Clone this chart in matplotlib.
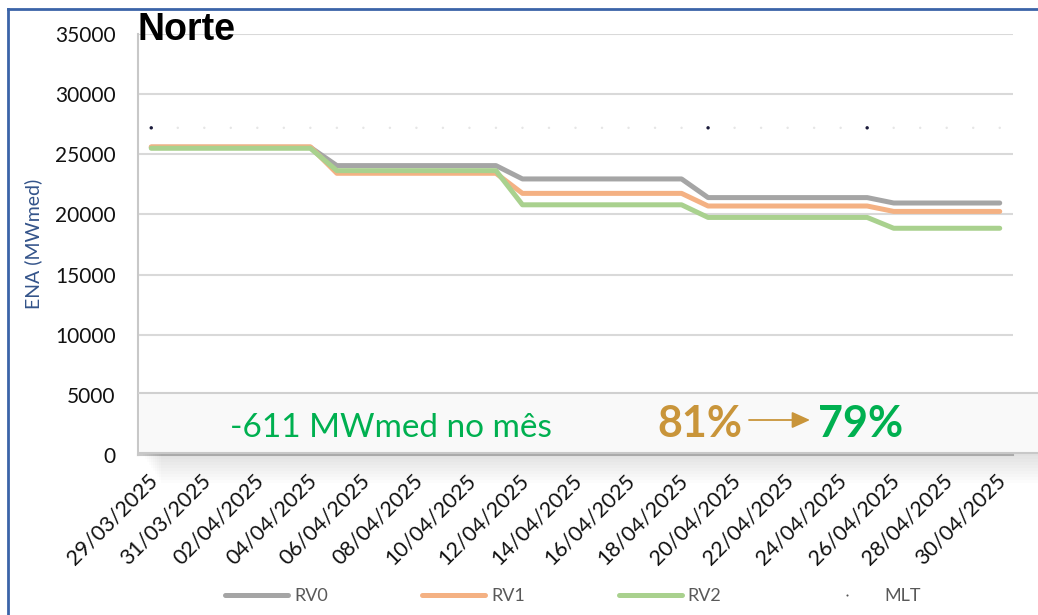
import numpy as np
import matplotlib
matplotlib.use("Agg")
import matplotlib.pyplot as plt
import matplotlib.transforms as mtrans
from matplotlib.patches import Rectangle, FancyArrowPatch
from matplotlib.lines import Line2D
import datetime as dt

plt.rcParams['font.family'] = ['Lato', 'DejaVu Sans']

# dias de 29/03/2025 a 30/04/2025
start = dt.date(2025, 3, 29)
dates = [start + dt.timedelta(days=i) for i in range(33)]
labels = [d.strftime('%d/%m/%Y') for d in dates]

rv0 = [25580] * 7 + [24060] * 7 + [22950] * 7 + [21400] * 7 + [20950] * 5
rv1 = [25620] * 7 + [23420] * 7 + [21750] * 7 + [20700] * 7 + [20250] * 5
rv2 = [25500] * 7 + [23640] * 7 + [20800] * 7 + [19750] * 7 + [18850] * 5
mlt = [27200] * 33
mlt_strong = [0, 21, 27]   # pontos da MLT que aparecem mais escuros

x = np.arange(len(dates))

W, H = 1038, 615
fig = plt.figure(figsize=(W / 100, H / 100), dpi=100)
ax = fig.add_axes([138 / W, 1 - 455 / H, (1013 - 138) / W, (455 - 34) / H])

ax.plot(x, rv0, c='#a5a5a5', lw=3.6, label='RV0', solid_capstyle='round', zorder=3)
ax.plot(x, rv1, c='#f4b183', lw=3.6, label='RV1', solid_capstyle='round', zorder=4)
ax.plot(x, rv2, c='#a9d18e', lw=3.6, label='RV2', solid_capstyle='round', zorder=5)

cols = ['#1a1a3a' if i in mlt_strong else '#e6e6e6' for i in x]
sz = [6 if i in mlt_strong else 3 for i in x]
ax.scatter(x, mlt, s=sz, c=cols, marker='o', linewidths=0, zorder=6)
mlt_h = Line2D([], [], ls='none', marker='o', ms=1.5, mfc='#555555', mec='none', label='MLT')

ax.set_xlim(-0.5, len(x) - 0.5)
ax.set_ylim(0, 35000)
ax.set_yticks(np.arange(0, 35001, 5000))
ax.set_yticklabels([str(v) for v in range(0, 35001, 5000)], fontsize=15, color='#111111')
ax.set_xticks(x[::2])
ax.set_xticklabels(labels[::2], rotation=45, ha='right', va='top',
                   rotation_mode='anchor', fontsize=15.5, color='#111111')
ax.tick_params(axis='both', length=0)
ax.tick_params(axis='y', pad=16)
ax.tick_params(axis='x', pad=11)
shift = mtrans.ScaledTranslation(-4 / 100, 0, fig.dpi_scale_trans)
for t in ax.get_xticklabels():
    t.set_transform(t.get_transform() + shift)

ax.grid(axis='y', color='#d9d9d9', lw=1.5)
ax.set_axisbelow(True)
for s in ['top', 'right']:
    ax.spines[s].set_visible(False)
ax.spines['left'].set_color('#c8c8c8')
ax.spines['bottom'].set_color('#c8c8c8')
ax.spines['left'].set_linewidth(1.5)
ax.spines['bottom'].set_linewidth(1.5)

fig.text(33 / W, 1 - 244 / H, 'ENA (MWmed)', rotation=90, ha='center', va='center',
         fontsize=14, color='#34548a')
fig.text(137 / W, 1 - 40 / H, 'Norte', ha='left', va='baseline', fontsize=27,
         fontweight='bold', family='Liberation Sans', color='black')

# moldura azul
fig.add_artist(Line2D([8 / W, 8 / W], [0, 1 - 9 / H], color='#3b64a8', lw=2))
fig.add_artist(Line2D([8 / W, 1], [1 - 9 / H, 1 - 9 / H], color='#3b64a8', lw=2))

# caixa com sombra
for k in range(10):
    fig.add_artist(Rectangle(((143 + 2 * k) / W, 1 - (456 + 3 * k) / H), (W - 140) / W, 60 / H,
                             transform=fig.transFigure, facecolor='#000000', alpha=0.01,
                             edgecolor='none', zorder=5))
fig.add_artist(Rectangle((139 / W, 1 - 453 / H), (W - 139) / W, 60 / H,
                         transform=fig.transFigure, facecolor='#f9f9f9',
                         edgecolor='none', zorder=6))
fig.add_artist(Line2D([139 / W, 1], [1 - 393 / H] * 2, color='#d0d0d0', lw=1.5, zorder=7))
fig.add_artist(Line2D([139 / W, 1], [1 - 453 / H] * 2, color='#c8c8c8', lw=1.5, zorder=7))

fig.text(230 / W, 1 - 437 / H, '-611 MWmed no mês', ha='left', va='baseline',
         fontsize=24, color='#00b050', zorder=8)
fig.text(657 / W, 1 - 437 / H, '81%', ha='left', va='baseline', fontsize=31,
         fontweight='bold', color='#c9953a', zorder=8)
fig.add_artist(FancyArrowPatch((749 / W, 1 - 420 / H), (810 / W, 1 - 420 / H),
                               transform=fig.transFigure, arrowstyle='-|>,head_length=11,head_width=5',
                               color='#c9953a', lw=1.3, shrinkA=0, shrinkB=0, zorder=8))
fig.text(818 / W, 1 - 437 / H, '79%', ha='left', va='baseline', fontsize=31,
         fontweight='bold', color='#00b050', zorder=8)

h, l = ax.get_legend_handles_labels()
fig.legend(h + [mlt_h], l + ['MLT'], loc='center', bbox_to_anchor=(0.552, 1 - 596 / H),
           ncol=4, frameon=False, fontsize=13, handlelength=3.5, handletextpad=0.33,
           columnspacing=5.2, labelcolor='#595959')

fig.savefig('out.png', dpi=100)
